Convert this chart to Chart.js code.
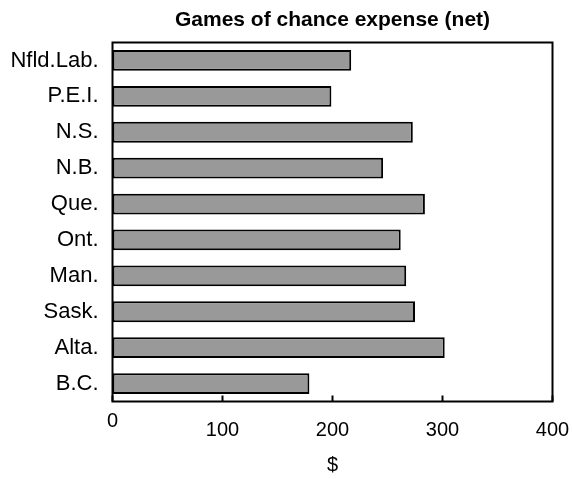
<!DOCTYPE html>
<html>
<head>
<meta charset="utf-8">
<script src="https://cdn.jsdelivr.net/npm/chart.js@4/dist/chart.umd.min.js"></script>
<style>
  html, body { margin: 0; padding: 0; background: #fff; overflow: hidden; }
  canvas { display: block; }
</style>
</head>
<body>
<canvas id="expenseChart" width="572" height="479"></canvas>
<script>
var provinces = ['Nfld.Lab.', 'P.E.I.', 'N.S.', 'N.B.', 'Que.', 'Ont.', 'Man.', 'Sask.', 'Alta.', 'B.C.'];
var expense = [217, 199, 273, 246, 284, 262, 267, 275, 302, 179];
var xTicks = [0, 100, 200, 300, 400];

var FONT = "'Liberation Sans', Arial, sans-serif";

// frame round the plot and the small tick marks pointing inward
var frame = {
  id: 'frame',
  afterDatasetsDraw: function(chart) {
    var ctx = chart.ctx, a = chart.chartArea, x = chart.scales.x;
    ctx.save();
    ctx.strokeStyle = '#000';
    ctx.lineWidth = 2;
    ctx.strokeRect(a.left, a.top, a.right - a.left, a.bottom - a.top);
    xTicks.forEach(function(v) {
      var px = x.getPixelForValue(v);
      ctx.beginPath();
      ctx.moveTo(px, a.bottom);
      ctx.lineTo(px, a.bottom - 6);
      ctx.stroke();
    });
    ctx.restore();
  }
};

new Chart(document.getElementById('expenseChart').getContext('2d'), {
  type: 'bar',
  data: {
    labels: provinces,
    datasets: [{
      data: expense,
      backgroundColor: '#999999',
      borderColor: '#000000',
      borderWidth: 2,
      borderSkipped: false,
      barPercentage: 0.58,
      categoryPercentage: 1.0
    }]
  },
  options: {
    indexAxis: 'y',
    responsive: false,
    animation: false,
    layout: { padding: { left: 0, right: 19.5, top: 0, bottom: 0 } },
    plugins: { legend: { display: false }, tooltip: { enabled: false }, title: { display: false } },
    scales: {
      y: {
        grid: { display: false, drawTicks: false },
        border: { display: false },
        ticks: { color: '#000', padding: 14, font: { family: FONT, size: 22 } },
        afterFit: function(s) { s.width = 112.5; s.paddingTop = 0; s.paddingBottom = 0; }
      },
      x: {
        position: 'bottom',
        min: 0, max: 400,
        afterBuildTicks: function(s) { s.ticks = xTicks.map(function(v) { return { value: v }; }); },
        grid: { display: false, drawTicks: false },
        border: { display: false },
        ticks: {
          color: '#000', padding: 15, maxRotation: 0, autoSkip: false,
          font: { family: FONT, size: 20, lineHeight: 0.45 },
          callback: function(v) { return v === 0 ? '0' : ['', String(v)]; }
        },
        title: { display: true, text: '$', color: '#000', padding: { bottom: 4 }, font: { family: FONT, size: 20, lineHeight: 1 } },
        afterFit: function(s) { s.height = 77.5; s.paddingLeft = 0; s.paddingRight = 0; }
      },
      x2: {
        type: 'linear', position: 'top', min: 0, max: 400,
        grid: { display: false, drawTicks: false },
        border: { display: false },
        ticks: { display: false },
        title: { display: true, text: 'Games of chance expense (net)', color: '#000', padding: { top: 10 }, font: { family: FONT, size: 21, weight: 'bold', lineHeight: 1 } },
        afterFit: function(s) { s.height = 42.5; s.paddingLeft = 0; s.paddingRight = 0; }
      }
    }
  },
  plugins: [frame]
});
</script>
</body>
</html>
